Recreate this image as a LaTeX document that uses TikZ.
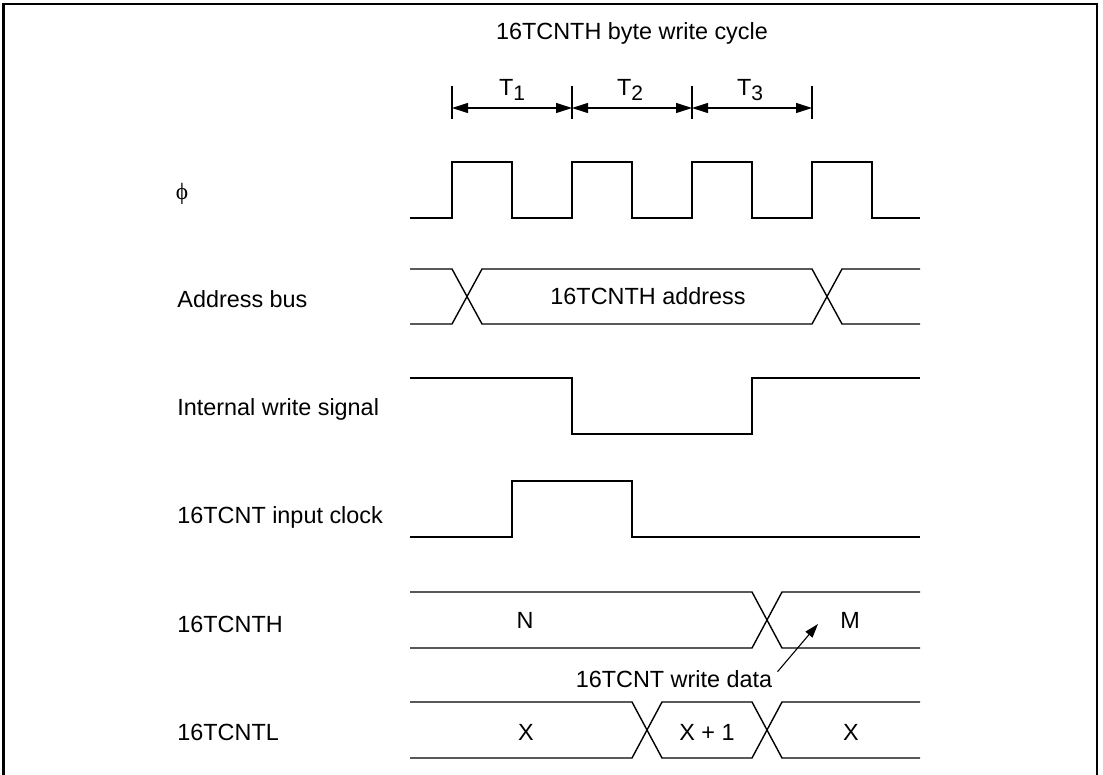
\documentclass[tikz,border=0pt]{standalone}
\usepackage{fontspec}
\setmainfont{Liberation Sans}
\newfontfamily\greekserif{Liberation Serif}
\usetikzlibrary{arrows.meta}
\begin{document}
\begin{tikzpicture}[x=0.5pt,y=-0.5pt,
  sig/.style={line width=0.7pt, line join=miter},
  frame/.style={line width=1.1pt},
  lbl/.style={font=\fontsize{11.7}{14}\selectfont, inner sep=0pt},
  dim/.style={line width=0.55pt, {Triangle[length=8pt,width=5pt]}-{Triangle[length=8pt,width=5pt]}},
  ptr/.style={line width=0.55pt, -{Triangle[length=7pt,width=4.5pt]}}]
\useasboundingbox (0,0) rectangle (1103,775);
\draw[frame] (3.5,775) -- (3.5,4) -- (1097,4) -- (1097,775);

% title and period markers
\node[lbl, anchor=base] (title) at (632,40) {16TCNTH byte write cycle};
\coordinate (t0) at (452,108);
\coordinate (t1) at (572,108);
\coordinate (t2) at (692,108);
\coordinate (t3) at (812,108);
\foreach \c in {t0,t1,t2,t3} \draw[line width=0.55pt] ([yshift=11pt]\c) -- ([yshift=-5.5pt]\c);
\draw[dim] (t0) -- (t1);
\draw[dim] (t1) -- (t2);
\draw[dim] (t2) -- (t3);
\node[lbl, anchor=base] (T1) at (512,96) {T\raisebox{-2.5pt}{\fontsize{10.5}{12}\selectfont 1}};
\node[lbl, anchor=base] (T2) at (630,96) {T\raisebox{-2.5pt}{\fontsize{10.5}{12}\selectfont 2}};
\node[lbl, anchor=base] (T3) at (750,96) {T\raisebox{-2.5pt}{\fontsize{10.5}{12}\selectfont 3}};

% signal names
\node[lbl, anchor=center] (lphi) at (182,194) {\greekserif ϕ};
\node[lbl, anchor=base west] (laddr) at (177,307) {Address bus};
\node[lbl, anchor=base west] (lwr) at (177,415) {Internal write signal};
\node[lbl, anchor=base west] (lclk) at (177,523) {16TCNT input clock};
\node[lbl, anchor=base west] (lh) at (177,632) {16TCNTH};
\node[lbl, anchor=base west] (ll) at (177,740) {16TCNTL};

% phi clock
\draw[sig] (410,218) -- (452,218) -- (452,162) -- (512,162) -- (512,218) -- (572,218) -- (572,162) -- (632,162) -- (632,218) -- (692,218) -- (692,162) -- (752,162) -- (752,218) -- (812,218) -- (812,162) -- (872,162) -- (872,218) -- (920,218);

% address bus
\draw[sig] (410,269) -- (452,269) -- (482,324) -- (812,324) -- (842,269) -- (920,269);
\draw[sig] (410,324) -- (452,324) -- (482,269) -- (812,269) -- (842,324) -- (920,324);
\node[lbl, anchor=base] (addr) at (648,305) {16TCNTH address};

% internal write signal
\draw[sig] (410,378) -- (572,378) -- (572,434) -- (752,434) -- (752,378) -- (920,378);

% 16TCNT input clock
\draw[sig] (410,537) -- (512,537) -- (512,481) -- (632,481) -- (632,537) -- (920,537);

% 16TCNTH
\draw[sig] (410,592) -- (752,592) -- (782,648) -- (920,648);
\draw[sig] (410,648) -- (752,648) -- (782,592) -- (920,592);
\node[lbl, anchor=base] (vN) at (525,628) {N};
\node[lbl, anchor=base] (vM) at (850,628) {M};

% 16TCNTL
\draw[sig] (410,702) -- (632,702) -- (662,758) -- (752,758) -- (782,702) -- (920,702);
\draw[sig] (410,758) -- (632,758) -- (662,702) -- (752,702) -- (782,758) -- (920,758);
\node[lbl, anchor=base] (vX1) at (526,740) {X};
\node[lbl, anchor=base] (vX2) at (707,740) {X + 1};
\node[lbl, anchor=base] (vX3) at (851,740) {X};

% write data annotation
\node[lbl, anchor=base] (wd) at (674,687) {16TCNT write data};
\coordinate (wdtip) at (818,624);
\draw[ptr] ([xshift=2.5pt,yshift=-1pt]wd.north east) -- (wdtip);
\end{tikzpicture}
\end{document}
